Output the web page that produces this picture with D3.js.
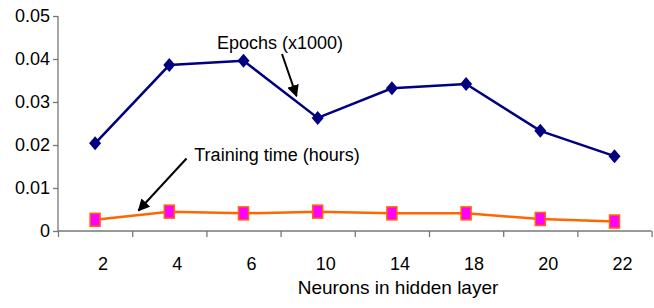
<!DOCTYPE html>
<html>
<head>
<meta charset="utf-8">
<script src="https://cdn.jsdelivr.net/npm/d3@7"></script>
<style>
  body { margin: 0; background: #fff; }
  text { font-family: Arial, "Liberation Sans", sans-serif; fill: #000; }
</style>
</head>
<body>
<svg width="654" height="308"></svg>
<script>
// data
var neurons = ["2", "4", "6", "10", "14", "18", "20", "22"];
var epochs = [0.0204, 0.0386, 0.0396, 0.0263, 0.0332, 0.0342, 0.0233, 0.0174];
var trainingTime = [0.0026, 0.0045, 0.0041, 0.0045, 0.0041, 0.0041, 0.0028, 0.0022];
var yTicks = [0, 0.01, 0.02, 0.03, 0.04, 0.05];

var svg = d3.select("svg");
var plotLeft = 58, plotRight = 651.6, plotTop = 16, plotBottom = 231;

var x = d3.scaleBand().domain(neurons).range([plotLeft, plotRight]);
var xEdge = d3.scaleLinear().domain([0, neurons.length]).range([plotLeft, plotRight]);
var y = d3.scaleLinear().domain([0, 0.05]).range([plotBottom, plotTop]);

// y axis
var yAxis = svg.append("g")
    .attr("transform", "translate(" + plotLeft + ",0)")
    .call(d3.axisLeft(y).tickValues(yTicks).tickSize(5).tickPadding(3)
      .tickFormat(function(d) { return d === 0 ? "0" : d3.format(".2f")(d); }));
yAxis.select(".domain").attr("stroke", "#777").attr("stroke-width", 1.3)
    .attr("d", "M0," + plotTop + "V" + plotBottom);
yAxis.selectAll(".tick line").attr("stroke", "#777").attr("stroke-width", 1.3);
yAxis.selectAll(".tick text").attr("font-size", 18).attr("fill", "#000")
    .attr("font-family", "Arial, 'Liberation Sans', sans-serif");

// x axis: ticks at the category edges
var xAxis = svg.append("g")
    .attr("transform", "translate(0," + plotBottom + ")")
    .call(d3.axisBottom(xEdge).tickValues(d3.range(neurons.length + 1)).tickSize(6).tickFormat(""));
xAxis.select(".domain").attr("stroke", "#777").attr("stroke-width", 1.3)
    .attr("d", "M" + plotLeft + ",0H" + plotRight);
xAxis.selectAll(".tick line").attr("stroke", "#777").attr("stroke-width", 1.3);

svg.append("g").selectAll("text")
    .data(neurons)
  .enter().append("text")
    .attr("x", function(d) { return x(d) + x.bandwidth() / 2 + 8; })
    .attr("y", 270)
    .attr("text-anchor", "middle")
    .attr("font-size", 18)
    .text(function(d) { return d; });

svg.append("text")
    .attr("x", 398).attr("y", 294)
    .attr("text-anchor", "middle")
    .attr("font-size", 19)
    .text("Neurons in hidden layer");

var cx = function(d, i) { return x(neurons[i]) + x.bandwidth() / 2; };

var line = d3.line()
    .x(function(d, i) { return cx(d, i); })
    .y(function(d) { return y(d); });

// epochs series
svg.append("path")
    .datum(epochs)
    .attr("fill", "none")
    .attr("stroke", "#000080")
    .attr("stroke-width", 2.5)
    .attr("d", line);

svg.append("g").selectAll("path")
    .data(epochs)
  .enter().append("path")
    .attr("transform", function(d, i) { return "translate(" + cx(d, i) + "," + y(d) + ")"; })
    .attr("d", "M0,-7L6,0L0,7L-6,0Z")
    .attr("fill", "#000080");

// training time series
svg.append("path")
    .datum(trainingTime)
    .attr("fill", "none")
    .attr("stroke", "#FF6600")
    .attr("stroke-width", 2.5)
    .attr("d", line);

svg.append("g").selectAll("rect")
    .data(trainingTime)
  .enter().append("rect")
    .attr("x", function(d, i) { return cx(d, i) - 5; })
    .attr("y", function(d) { return y(d) - 6.5; })
    .attr("width", 10)
    .attr("height", 13)
    .attr("fill", "#FF00FF")
    .attr("stroke", "#FF6600")
    .attr("stroke-width", 1.5);

// annotations
var defs = svg.append("defs");
defs.append("marker")
    .attr("id", "head")
    .attr("viewBox", "0 0 10 10")
    .attr("refX", 9).attr("refY", 5)
    .attr("markerWidth", 6).attr("markerHeight", 6)
    .attr("orient", "auto")
  .append("path")
    .attr("d", "M0,0L10,5L0,10Z")
    .attr("fill", "#000");

svg.append("text")
    .attr("x", 280).attr("y", 49)
    .attr("text-anchor", "middle")
    .attr("font-size", 18)
    .text("Epochs (x1000)");

svg.append("line")
    .attr("x1", 282).attr("y1", 54)
    .attr("x2", 296.5).attr("y2", 96)
    .attr("stroke", "#000").attr("stroke-width", 2)
    .attr("marker-end", "url(#head)");

svg.append("text")
    .attr("x", 277).attr("y", 161)
    .attr("text-anchor", "middle")
    .attr("font-size", 18)
    .text("Training time (hours)");

svg.append("line")
    .attr("x1", 186.5).attr("y1", 158.5)
    .attr("x2", 138.5).attr("y2", 210.5)
    .attr("stroke", "#000").attr("stroke-width", 2)
    .attr("marker-end", "url(#head)");
</script>
</body>
</html>
